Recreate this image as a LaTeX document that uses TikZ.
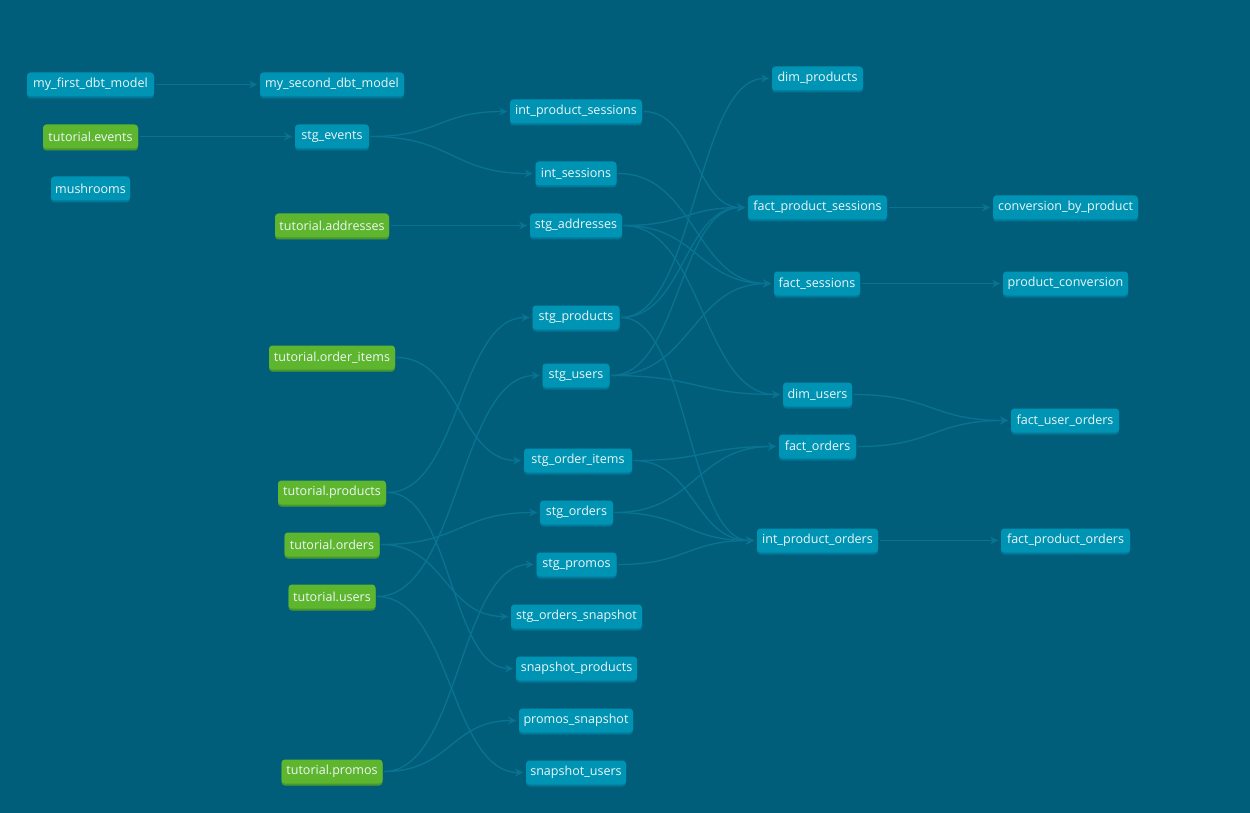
\documentclass[tikz,border=0pt]{standalone}
\usepackage{fontspec}
\setmainfont{Open Sans}
\usetikzlibrary{arrows.meta,calc,shadows}
\definecolor{bgc}{HTML}{005E7A}
\definecolor{nodeblue}{HTML}{0094B4}
\definecolor{nodeblueshade}{HTML}{00789A}
\definecolor{nodegreen}{HTML}{5EB62E}
\definecolor{nodegreenshade}{HTML}{4A9628}
\definecolor{edgec}{HTML}{0A7391}
\definecolor{txtc}{HTML}{EEF6F8}
\pgfdeclarelayer{bglayer}
\pgfdeclarelayer{edgelayer}
\pgfsetlayers{bglayer,edgelayer,main}
\tikzset{
  model/.style={rounded corners=2.5pt, fill=nodeblue, text=txtc,
    minimum height=18pt, inner xsep=3pt, inner ysep=0pt,
    font=\fontsize{9.4pt}{11pt}\selectfont,
    general shadow={fill=nodeblueshade, shadow yshift=-1.5pt, rounded corners=2.5pt}},
  source/.style={model, fill=nodegreen,
    general shadow={fill=nodegreenshade, shadow yshift=-1.5pt, rounded corners=2.5pt}},
  curve/.style={to path={let \p1=(\tikztostart), \p2=(\tikztotarget) in
    .. controls ({(\x1+\x2)/2},\y1) and ({(\x1+\x2)/2},\y2) .. (\tikztotarget)}},
  edge/.style={draw=edgec, line width=1pt, shorten >=2pt, shorten <=1pt,
    -{Stealth[length=6pt,width=6pt,inset=2pt]}}
}
\newcommand\lnk[2]{\draw[edge] (#1.east) to[curve] (#2.west);}
\begin{document}
\begin{tikzpicture}[x=0.75pt,y=-0.75pt]
\begin{pgfonlayer}{bglayer}
\fill[bgc] (0,0) rectangle (1250,813);
\end{pgfonlayer}
\useasboundingbox (0,0) rectangle (1250,813);
% column 1
\node[model, minimum width={127*0.75pt}] (m1) at (90.5,84.5) {my\_first\_dbt\_model};
\node[source, minimum width={95*0.75pt}] (tev) at (90.5,136.5) {tutorial.events};
\node[model, minimum width={79*0.75pt}] (mush) at (90.5,188.5) {mushrooms};
% column 2
\node[model, minimum width={144*0.75pt}] (m2) at (332,84.5) {my\_second\_dbt\_model};
\node[model, minimum width={74*0.75pt}] (sev) at (332,136.5) {stg\_events};
\node[source, minimum width={114*0.75pt}] (tadd) at (332,225.5) {tutorial.addresses};
\node[source, minimum width={126*0.75pt}] (toi) at (332,357.5) {tutorial.order\_items};
\node[source, minimum width={108*0.75pt}] (tprod) at (332,492.5) {tutorial.products};
\node[source, minimum width={95*0.75pt}] (tord) at (332,544.5) {tutorial.orders};
\node[source, minimum width={87*0.75pt}] (tusr) at (332,596.5) {tutorial.users};
\node[source, minimum width={101*0.75pt}] (tprom) at (332,771.5) {tutorial.promos};
% column 3
\node[model, minimum width={132*0.75pt}] (ips) at (576,111.5) {int\_product\_sessions};
\node[model, minimum width={81*0.75pt}] (isess) at (576,173.5) {int\_sessions};
\node[model, minimum width={92*0.75pt}] (sadd) at (576,225.5) {stg\_addresses};
\node[model, minimum width={87*0.75pt}] (sprod) at (576,317.5) {stg\_products};
\node[model, minimum width={67*0.75pt}] (susr) at (576,375.5) {stg\_users};
\node[model, minimum width={108*0.75pt}] (soi) at (578,460.5) {stg\_order\_items};
\node[model, minimum width={73*0.75pt}] (sord) at (576.5,512.5) {stg\_orders};
\node[model, minimum width={80*0.75pt}] (sprom) at (576.5,564.5) {stg\_promos};
\node[model, minimum width={131*0.75pt}] (sos) at (576.5,616.5) {stg\_orders\_snapshot};
\node[model, minimum width={121*0.75pt}] (snp) at (576.5,668.5) {snapshot\_products};
\node[model, minimum width={114*0.75pt}] (psn) at (576,720.5) {promos\_snapshot};
\node[model, minimum width={100*0.75pt}] (snu) at (576,772.5) {snapshot\_users};
% column 4
\node[model, minimum width={91*0.75pt}] (dprod) at (817.5,78.5) {dim\_products};
\node[model, minimum width={139*0.75pt}] (fps) at (817.5,207.5) {fact\_product\_sessions};
\node[model, minimum width={86*0.75pt}] (fs) at (817,283.5) {fact\_sessions};
\node[model, minimum width={69*0.75pt}] (du) at (817.5,394.5) {dim\_users};
\node[model, minimum width={77*0.75pt}] (fo) at (817.5,446.5) {fact\_orders};
\node[model, minimum width={121*0.75pt}] (ipo) at (817.5,540.5) {int\_product\_orders};
% column 5
\node[model, minimum width={145*0.75pt}] (cbp) at (1065.5,207.5) {conversion\_by\_product};
\node[model, minimum width={125*0.75pt}] (pc) at (1065.5,283.5) {product\_conversion};
\node[model, minimum width={108*0.75pt}] (fuo) at (1065,420.5) {fact\_user\_orders};
\node[model, minimum width={129*0.75pt}] (fpo) at (1065.5,540.5) {fact\_product\_orders};
\begin{pgfonlayer}{edgelayer}
\lnk{m1}{m2}
\lnk{tev}{sev}
\lnk{sev}{ips}
\lnk{sev}{isess}
\lnk{tadd}{sadd}
\lnk{toi}{soi}
\lnk{tprod}{sprod}
\lnk{tprod}{snp}
\lnk{tord}{sord}
\lnk{tord}{sos}
\lnk{tusr}{susr}
\lnk{tusr}{snu}
\lnk{tprom}{sprom}
\lnk{tprom}{psn}
\lnk{ips}{fps}
\lnk{isess}{fs}
\lnk{sadd}{fps}
\lnk{sadd}{fs}
\lnk{sadd}{du}
\lnk{sprod}{dprod}
\lnk{sprod}{fps}
\lnk{sprod}{ipo}
\lnk{susr}{fps}
\lnk{susr}{fs}
\lnk{susr}{du}
\lnk{soi}{fo}
\lnk{soi}{ipo}
\lnk{sord}{fo}
\lnk{sord}{ipo}
\lnk{sprom}{ipo}
\lnk{fps}{cbp}
\lnk{fs}{pc}
\lnk{du}{fuo}
\lnk{fo}{fuo}
\lnk{ipo}{fpo}
\end{pgfonlayer}
\end{tikzpicture}
\end{document}
